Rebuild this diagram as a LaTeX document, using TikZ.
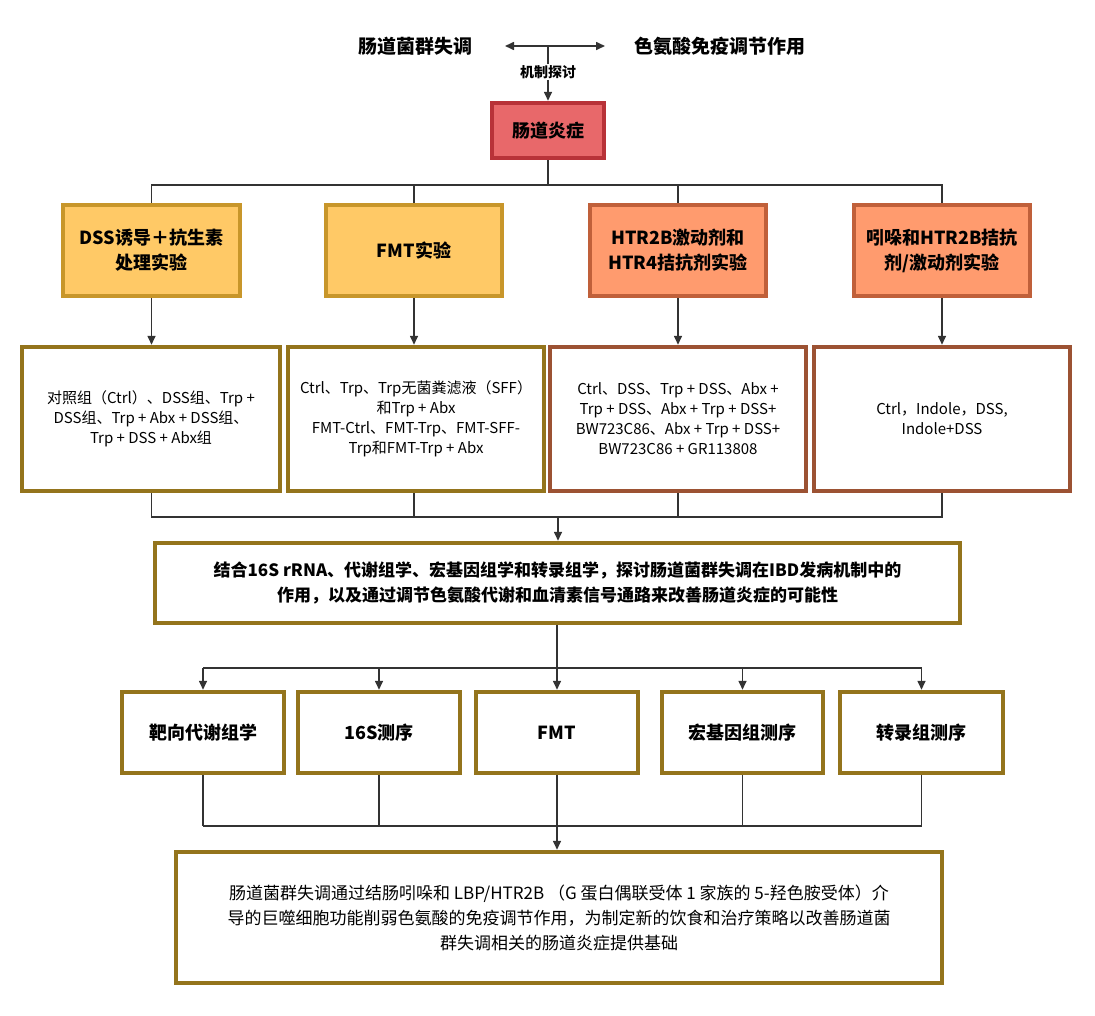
\documentclass[tikz,border=0pt]{standalone}
\usepackage{fontspec}
\setmainfont{Noto Sans CJK SC}
\usetikzlibrary{arrows.meta}
\definecolor{gold}{HTML}{94741C}
\definecolor{brn}{HTML}{9C5233}
\definecolor{yfill}{HTML}{FFC966}
\definecolor{yedge}{HTML}{C8962A}
\definecolor{ofill}{HTML}{FF9B6E}
\definecolor{oedge}{HTML}{C0603A}
\definecolor{rfill}{HTML}{E8686A}
\definecolor{redge}{HTML}{B83238}
\tikzset{
 bx/.style={draw=gold,line width=4.5pt,fill=white,align=center,inner sep=0pt,font=\fontsize{15}{20}\selectfont},
 hd/.style={line width=4.5pt,align=center,inner sep=0pt,font=\bfseries\fontsize{18}{25}\selectfont},
 ln/.style={line width=1.6pt,draw=black!80},
 ar/.style={ln,-{Triangle[length=9pt,width=8pt]}},
}
\newcommand{\bxat}[6]{\node[#1,minimum width=#4pt-#2pt,minimum height=#5pt-#3pt] (#6) at ({(#2+#4)/2},{(#3+#5)/2})}
\begin{document}
\begin{tikzpicture}[x=1pt,y=-1pt]
\useasboundingbox (0,0) rectangle (1095,1015);
\node[font=\bfseries\fontsize{19}{22}\selectfont] (t1) at (415,46) {肠道菌群失调};
\node[font=\bfseries\fontsize{19}{22}\selectfont] (t2) at (720,46) {色氨酸免疫调节作用};
\coordinate (ta) at (505,46); \coordinate (tb) at (605,46); \coordinate (tm) at (548,46);
\draw[ln,{Triangle[length=9pt,width=8pt]}-{Triangle[length=9pt,width=8pt]}] (ta) -- (tb);
\node[font=\bfseries\fontsize{14}{16}\selectfont,fill=white,inner sep=1pt] (mj) at (548,72) {机制探讨};
\draw[ln] (tm) -- (mj.north);
\bxat{hd,draw=redge,fill=rfill}{492}{103}{604}{158}{r}{肠道炎症};
\draw[ar] (mj.south) -- (r.north);
% row1
\bxat{hd,draw=yedge,fill=yfill}{63}{205}{240}{296}{a1}{DSS诱导＋抗生素\\处理实验};
\bxat{hd,draw=yedge,fill=yfill}{326}{205}{502}{296}{a2}{FMT实验};
\bxat{hd,draw=oedge,fill=ofill}{590}{205}{766}{296}{a3}{HTR2B激动剂和\\HTR4拮抗剂实验};
\bxat{hd,draw=oedge,fill=ofill}{854}{205}{1030}{296}{a4}{吲哚和HTR2B拮抗\\剂/激动剂实验};
\coordinate (h1) at (548,185);
\draw[ln] (r.south) -- (h1);
\draw[ln] (a1.north) |- (h1) -| (a4.north);
\draw[ln] (a2.north) -- (a2.north|-h1);
\draw[ln] (a3.north) -- (a3.north|-h1);
% row2
\bxat{bx}{22}{347}{280}{491}{b1}{对照组（Ctrl）、DSS组、Trp +\\DSS组、Trp + Abx + DSS组、\\Trp + DSS + Abx组};
\bxat{bx}{288}{347}{544}{491}{b2}{Ctrl、Trp、Trp无菌粪滤液（SFF）\\和Trp + Abx\\FMT-Ctrl、FMT-Trp、FMT-SFF-\\Trp和FMT-Trp + Abx};
\bxat{bx,draw=brn}{550}{347}{806}{491}{b3}{Ctrl、DSS、Trp + DSS、Abx +\\Trp + DSS、Abx + Trp + DSS+\\BW723C86、Abx + Trp + DSS+\\BW723C86 + GR113808};
\bxat{bx,draw=brn}{814}{347}{1070}{491}{b4}{Ctrl，Indole，DSS,\\Indole+DSS};
\foreach \i in {1,2,3,4}{\draw[ar] (a\i.south) -- (a\i.south|-b\i.north);}
\coordinate (h2) at (558,517);
\bxat{bx,font=\bfseries\fontsize{17}{25}\selectfont}{155}{543}{960}{623}{c}{结合16S rRNA、代谢组学、宏基因组学和转录组学，探讨肠道菌群失调在IBD发病机制中的\\作用，以及通过调节色氨酸代谢和血清素信号通路来改善肠道炎症的可能性};
\draw[ln] (b1.south-|a1.south) |- (h2) -| (b4.south-|a4.south);
\draw[ln] (b2.south-|a2.south) -- (a2.south|-h2);
\draw[ln] (b3.south-|a3.south) -- (a3.south|-h2);
\draw[ar] (h2) -- (h2|-c.north);
% row3
\bxat{hd,draw=gold,fill=white}{122}{692}{284}{773}{d1}{靶向代谢组学};
\bxat{hd,draw=gold,fill=white}{298}{692}{460}{773}{d2}{16S测序};
\bxat{hd,draw=gold,fill=white}{476}{692}{638}{773}{d3}{FMT};
\bxat{hd,draw=gold,fill=white}{662}{692}{823}{773}{d4}{宏基因组测序};
\bxat{hd,draw=gold,fill=white}{840}{692}{1003}{773}{d5}{转录组测序};
\coordinate (h3) at (557,668);
\draw[ln] (c.south-|h3) -- (h3);
\draw[ln] (h3-|d1) -- (h3-|d5);
\foreach \i in {1,2,3,4,5}{\draw[ar] (h3-|d\i) -- (d\i.north);}
\coordinate (h4) at (557,826);
\foreach \i in {1,2,3,4,5}{\draw[ln] (d\i.south) -- (h4-|d\i);}
\draw[ln] (h4-|d1) -- (h4-|d5);
\bxat{bx,font=\fontsize{17}{25}\selectfont}{176}{852}{942}{983}{e}{肠道菌群失调通过结肠吲哚和 LBP/HTR2B （G 蛋白偶联受体 1 家族的 5-羟色胺受体）介\\导的巨噬细胞功能削弱色氨酸的免疫调节作用，为制定新的饮食和治疗策略以改善肠道菌\\群失调相关的肠道炎症提供基础};
\draw[ar] (h4) -- (e.north-|h4);
\end{tikzpicture}
\end{document}
